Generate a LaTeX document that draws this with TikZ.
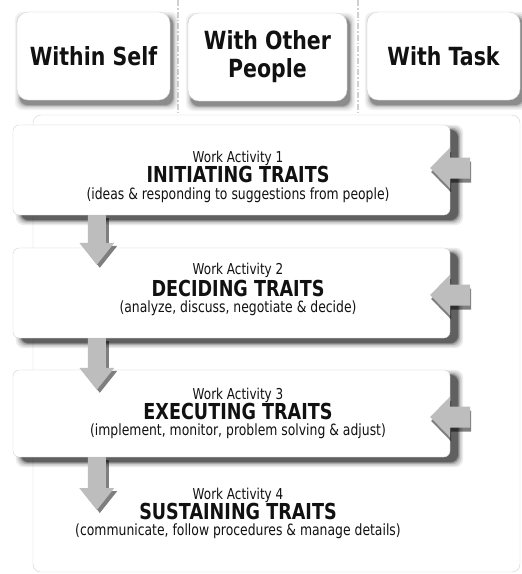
\documentclass[tikz,border=0pt]{standalone}
\usepackage{fontspec}
\setmainfont{DejaVu Sans}
\newfontfamily\hdrfont[FakeStretch=0.82]{DejaVu Sans}
\newfontfamily\bodyfont[FakeStretch=0.8]{DejaVu Sans}
\usetikzlibrary{calc}
\definecolor{boxline}{HTML}{D2D2D2}
\definecolor{arrowgray}{HTML}{BDBDBD}
\definecolor{sepgray}{HTML}{D0D0D0}
\definecolor{txt}{HTML}{111111}
\pgfdeclarelayer{bglayer}
\pgfdeclarelayer{shadowlayer}
\pgfdeclarelayer{arrowlayer}
\pgfsetlayers{bglayer,shadowlayer,main,arrowlayer}
\tikzset{
  hdrbox/.style={draw=boxline, fill=white, rounded corners=11pt, minimum width=153pt,
    minimum height=88pt, inner sep=0pt, align=center, text=txt,
    font=\hdrfont\bfseries\fontsize{25}{28}\selectfont},
  actbox/.style={draw=boxline, fill=white, rounded corners=6pt, minimum width=437pt, inner sep=0pt},
  bgbox/.style={draw=boxline, fill=white, rounded corners=8pt, minimum width=487pt,
    minimum height=457pt, inner sep=0pt},
  worktxt/.style={anchor=base, inner sep=0pt, text=txt, font=\bodyfont\fontsize{15}{18}\selectfont},
  titletxt/.style={anchor=base, inner sep=0pt, text=txt, font=\bodyfont\bfseries\fontsize{22}{24}\selectfont},
  desctxt/.style={anchor=base, inner sep=0pt, text=txt, font=\bodyfont\fontsize{15.5}{18}\selectfont},
  sepline/.style={draw=sepgray, line width=1.2pt, dash pattern=on 6pt off 2pt on 1.5pt off 2pt},
  arrowfill/.style={fill=arrowgray},
  arrowshade/.style={fill=black, opacity=0.5},
}
% soft shadow under a node: node, dx, dy (y down), strength
\newcommand\softshadow[4]{%
  \foreach \ee/\oo in {5/0.05,3.5/0.07,2/0.1,0.8/0.14,0/0.18}{%
    \pgfmathsetmacro\op{\oo*#4}%
    \fill[black, opacity=\op, rounded corners=8pt]
      ($(#1.north west)+(#2-\ee,#3-\ee)$) rectangle ($(#1.south east)+(#2+\ee,#3+\ee)$);
  }}
% block arrow pointing down: start, tip, style, dx, dy
\newcommand\downblock[5]{%
  \fill[#3] let \p1=($(#1)+(#4,#5)$), \p2=($(#2)+(#4,#5)$) in
    (\x1-9pt,\y1) -- (\x1-9pt,\y2+22pt) -- (\x1-17.5pt,\y2+22pt) -- (\x1,\y2)
    -- (\x1+17.5pt,\y2+22pt) -- (\x1+9pt,\y2+22pt) -- (\x1+9pt,\y1) -- cycle;}
% block arrow pointing left: start, tip, style, dx, dy
\newcommand\leftblock[5]{%
  \fill[#3] let \p1=($(#1)+(#4,#5)$), \p2=($(#2)+(#4,#5)$) in
    (\x1,\y2+10.5pt) -- (\x2+20pt,\y2+10.5pt) -- (\x2+20pt,\y2+20.5pt) -- (\x2,\y2)
    -- (\x2+20pt,\y2-20.5pt) -- (\x2+20pt,\y2-10.5pt) -- (\x1,\y2-10.5pt) -- cycle;}
\begin{document}
\begin{tikzpicture}[x=1pt,y=-1pt]
\useasboundingbox (0,0) rectangle (522,574);

\begin{pgfonlayer}{bglayer}
  \fill[white] (0,0) rectangle (522,574);
  \coordinate (s1a) at (178,0);
  \coordinate (s1b) at (178,112);
  \coordinate (s2a) at (358,0);
  \coordinate (s2b) at (358,112);
  \draw[sepline] (s1a) -- (s1b);
  \draw[sepline] (s2a) -- (s2b);
  \node[bgbox] (bg) at (276.5,343.5) {};
\end{pgfonlayer}

% header boxes
\node[hdrbox] (hA) at (93.5,56) {Within Self};
\node[hdrbox, minimum width=159pt] (hB) at (267.5,57) {With Other\\People};
\node[hdrbox] (hC) at (443.5,56) {With Task};

% activity boxes
\node[actbox, minimum height=90pt] (A1) at (231.5,170) {};
\node[actbox, minimum height=90pt] (A2) at (231.5,293) {};
\node[actbox, minimum height=87pt] (A3) at (231.5,413.5) {};

% texts
\node[worktxt]  (w1) at (238,162) {Work Activity 1};
\node[titletxt] (t1) at (238,182) {INITIATING TRAITS};
\node[desctxt]  (d1) at (238,199) {(ideas \& responding to suggestions from people)};

\node[worktxt]  (w2) at (238,274) {Work Activity 2};
\node[titletxt] (t2) at (238,296) {DECIDING TRAITS};
\node[desctxt]  (d2) at (238,312) {(analyze, discuss, negotiate \& decide)};

\node[worktxt]  (w3) at (238,399) {Work Activity 3};
\node[titletxt] (t3) at (238,419) {EXECUTING TRAITS};
\node[desctxt]  (d3) at (238,435) {(implement, monitor, problem solving \& adjust)};

\node[worktxt]  (w4) at (238,499) {Work Activity 4};
\node[titletxt] (t4) at (238,519) {SUSTAINING TRAITS};
\node[desctxt]  (d4) at (238,535) {(communicate, follow procedures \& manage details)};

% shadows
\begin{pgfonlayer}{shadowlayer}
  \softshadow{hA}{3}{5}{1}
  \softshadow{hB}{3}{5}{1}
  \softshadow{hC}{3}{5}{1}
  \softshadow{A1}{8}{5}{1.6}
  \softshadow{A2}{8}{5}{1.6}
  \softshadow{A3}{8}{5}{1.6}
\end{pgfonlayer}

% arrow end points
\coordinate (a1s) at ([xshift=84pt]A1.south west);
\coordinate (a1t) at ([xshift=84pt,yshift=-17pt]A2.north west);
\coordinate (a2s) at ([xshift=84pt]A2.south west);
\coordinate (a2t) at ([xshift=84pt,yshift=-20pt]A3.north west);
\coordinate (a3s) at ([xshift=84pt]A3.south west);
\coordinate (a3t) at (97,510);
\coordinate (l1s) at ([xshift=20pt,yshift=2pt]A1.east);
\coordinate (l1t) at ([xshift=-20pt,yshift=2pt]A1.east);
\coordinate (l2s) at ([xshift=20pt,yshift=-2pt]A2.east);
\coordinate (l2t) at ([xshift=-20pt,yshift=-2pt]A2.east);
\coordinate (l3s) at ([xshift=20pt,yshift=-3.5pt]A3.east);
\coordinate (l3t) at ([xshift=-20pt,yshift=-3.5pt]A3.east);

\begin{pgfonlayer}{arrowlayer}
  \downblock{a1s}{a1t}{arrowshade}{3}{3}
  \downblock{a2s}{a2t}{arrowshade}{3}{3}
  \downblock{a3s}{a3t}{arrowshade}{3}{3}
  \leftblock{l1s}{l1t}{arrowshade}{1}{4}
  \leftblock{l2s}{l2t}{arrowshade}{1}{4}
  \leftblock{l3s}{l3t}{arrowshade}{1}{4}
  \downblock{a1s}{a1t}{arrowfill}{0}{0}
  \downblock{a2s}{a2t}{arrowfill}{0}{0}
  \downblock{a3s}{a3t}{arrowfill}{0}{0}
  \leftblock{l1s}{l1t}{arrowfill}{0}{0}
  \leftblock{l2s}{l2t}{arrowfill}{0}{0}
  \leftblock{l3s}{l3t}{arrowfill}{0}{0}
\end{pgfonlayer}
\end{tikzpicture}
\end{document}
